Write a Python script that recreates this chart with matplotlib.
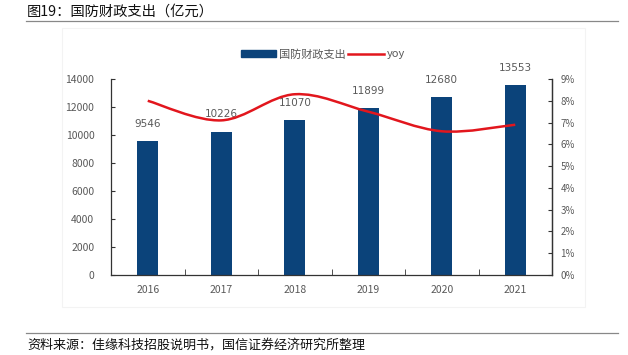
import matplotlib
matplotlib.use("Agg")
import matplotlib.pyplot as plt
from matplotlib.path import Path
from matplotlib.patches import PathPatch, Rectangle
from matplotlib.lines import Line2D
import numpy as np

plt.rcParams['font.family'] = ['Noto Sans CJK SC', 'DejaVu Sans']

years = ["2016", "2017", "2018", "2019", "2020", "2021"]
spend = [9546, 10226, 11070, 11899, 12680, 13553]
yoy = [8.0, 7.1, 8.3, 7.5, 6.6, 6.9]   # %

bar_color = "#0b437a"
line_color = "#e2161d"
txt_gray = "#595959"

fig = plt.figure(figsize=(6.28, 3.55), dpi=100)

# faint chart frame
fig.patches.append(Rectangle((62/628, 1-307/355), (585-62)/628, (307-28)/355,
                             transform=fig.transFigure, fill=False,
                             edgecolor="#f3f3f3", lw=0.8))

ax = fig.add_axes([111/628, 1-275/355, (552-111)/628, (275-79)/355])
x = np.arange(len(years))
ax.bar(x, spend, width=0.29, color=bar_color, zorder=2)
for xi, v in zip(x, spend):
    ax.annotate(str(v), (xi, v), xytext=(0, 9), textcoords="offset points",
                ha="center", va="bottom", fontsize=7.5, color=txt_gray,
                family="DejaVu Sans")
ax.set_xlim(-0.5, len(years)-0.5)
ax.set_ylim(0, 14000)
ax.set_yticks(range(0, 14001, 2000))
ax.set_xticks(x)
ax.set_xticklabels(years)
ax.set_xticks(np.arange(-0.5, len(years)), minor=True)
ax.tick_params(axis="x", which="major", length=0, pad=7, labelsize=7.5, labelcolor=txt_gray)
ax.tick_params(axis="x", which="minor", direction="in", length=4, color="#333333")
ax.tick_params(axis="y", direction="in", length=3, labelsize=7.5, labelcolor=txt_gray,
               color="#333333", pad=12)
ax.spines["top"].set_visible(False)
for s in ["left", "bottom", "right"]:
    ax.spines[s].set_color("#333333")
    ax.spines[s].set_linewidth(0.9)

ax2 = ax.twinx()
ax2.set_ylim(0, 9)
ax2.set_yticks(range(0, 10))
ax2.set_yticklabels([f"{i}%" for i in range(0, 10)])
ax2.tick_params(axis="y", direction="in", length=3, labelsize=7, labelcolor=txt_gray,
                color="#333333", pad=6)
for s in ["top", "left", "bottom"]:
    ax2.spines[s].set_visible(False)
ax2.spines["right"].set_color("#333333")
ax2.spines["right"].set_linewidth(0.9)

# smoothed line (Catmull-Rom style Bezier through the data points)
px = np.array(x, dtype=float)
py = np.array(yoy, dtype=float)
verts = [(px[0], py[0])]
codes = [Path.MOVETO]
for i in range(len(px)-1):
    p0 = (px[i-1], py[i-1]) if i > 0 else (px[i], py[i])
    p1 = (px[i], py[i])
    p2 = (px[i+1], py[i+1])
    p3 = (px[i+2], py[i+2]) if i+2 < len(px) else p2
    c1 = (p1[0] + (p2[0]-p0[0])/6, p1[1] + (p2[1]-p0[1])/6)
    c2 = (p2[0] - (p3[0]-p1[0])/6, p2[1] - (p3[1]-p1[1])/6)
    verts += [c1, c2, p2]
    codes += [Path.CURVE4]*3
ax2.add_patch(PathPatch(Path(verts, codes), fill=False, edgecolor=line_color, lw=1.8, zorder=3))

# legend
handles = [Rectangle((0, 0), 1, 1, color=bar_color),
           Line2D([], [], color=line_color, lw=1.8)]
fig.legend(handles, ["国防财政支出", "yoy"], loc="center", bbox_to_anchor=(323/628, 1-54/355),
           ncol=2, frameon=False, fontsize=8, labelcolor=txt_gray, handlelength=3.2,
           handleheight=0.5, columnspacing=0.2, handletextpad=0.3)

# title and source
fig.text(27/628, 1-11.5/355, "图19：国防财政支出（亿元）", fontsize=10.3, va="center", ha="left", color="#111111")
fig.add_artist(Line2D([26/628, 618/628], [1-21/355, 1-21/355], transform=fig.transFigure,
                      color="#888888", lw=0.9))
fig.add_artist(Line2D([26/628, 618/628], [1-333/355, 1-333/355], transform=fig.transFigure,
                      color="#888888", lw=0.9))
fig.text(27/628, 1-345/355, "资料来源：佳缘科技招股说明书，国信证券经济研究所整理", fontsize=9.4,
         va="center", ha="left", color="#111111")

fig.savefig("out.png", dpi=100)
